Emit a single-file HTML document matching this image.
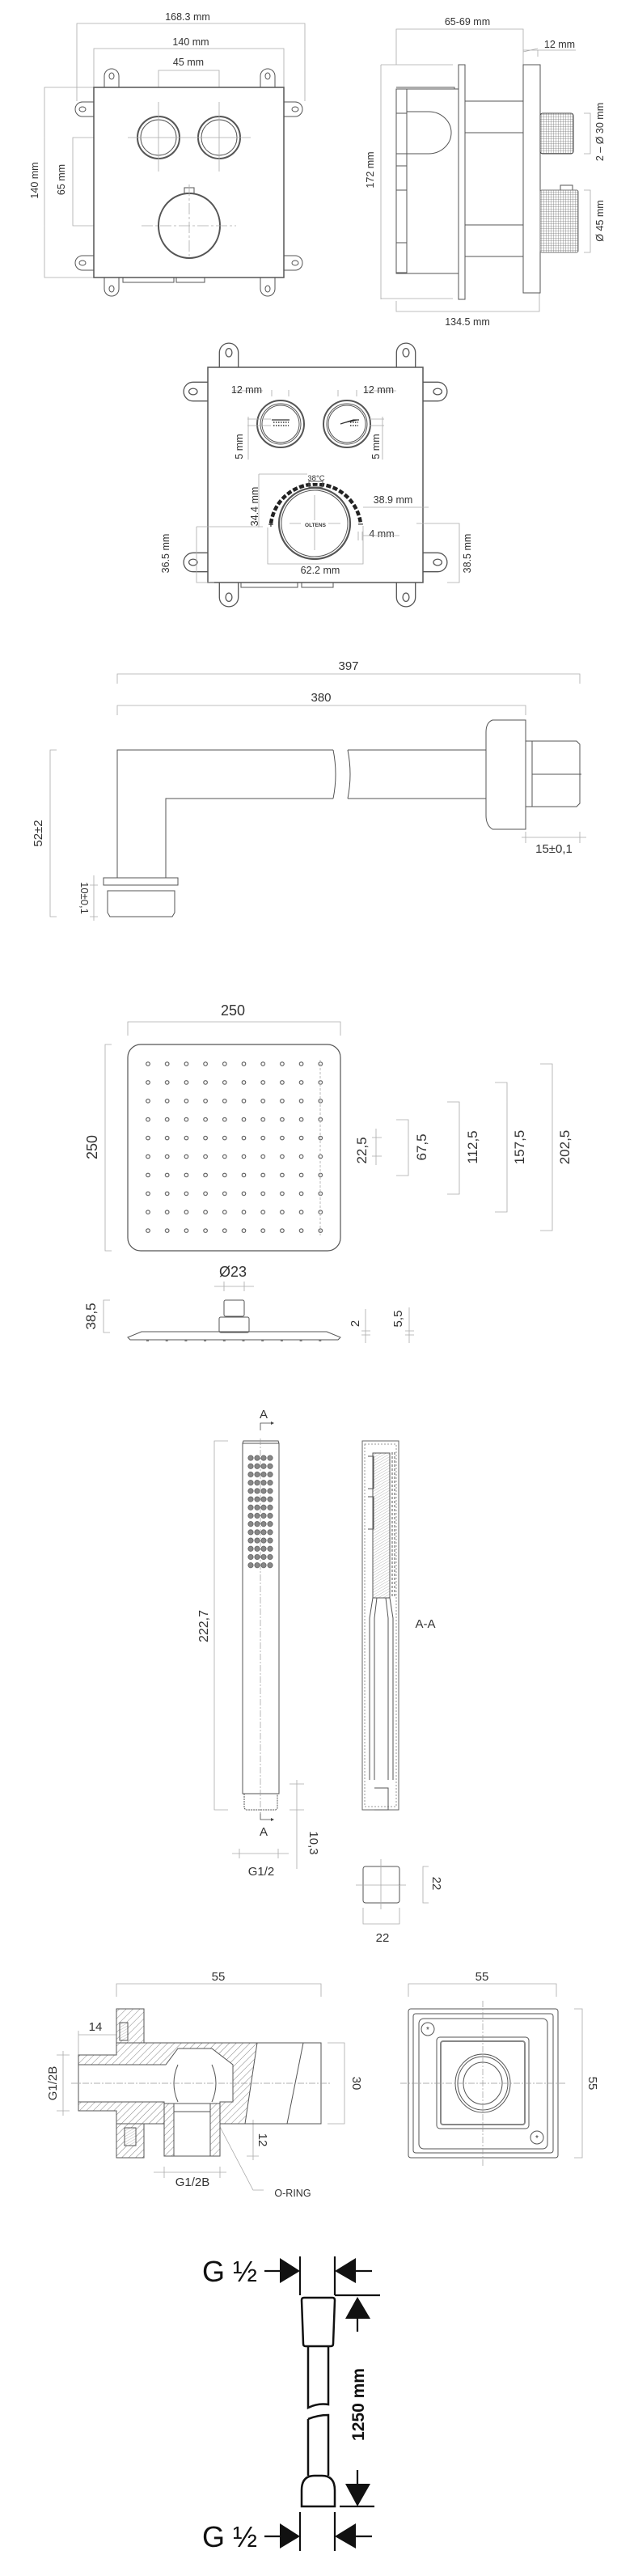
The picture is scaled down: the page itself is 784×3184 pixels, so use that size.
<!DOCTYPE html>
<html><head><meta charset="utf-8"><style>
html,body{margin:0;padding:0;background:#fff}
svg{display:block}
text{font-family:"Liberation Sans",sans-serif;fill:#333}
.o{fill:none;stroke:#555;stroke-width:1}
.d{fill:none;stroke:#aaa;stroke-width:.8}
.c{fill:none;stroke:#999;stroke-width:.7;stroke-dasharray:8 2 2 2}
.k{fill:none;stroke:#111;stroke-width:2.5}
</style></head><body>
<svg width="784" height="3184" viewBox="0 0 784 3184" xmlns="http://www.w3.org/2000/svg">
<defs>
<g id="ear"><path d="M-9,0 L-9,-14 A9,9 0 0 1 9,-14 L9,0" fill="#fff" stroke="#555" stroke-width="1"/><ellipse cx="0" cy="-14" rx="3" ry="4" fill="none" stroke="#555" stroke-width="1"/></g>
<pattern id="knurl" width="3" height="3" patternUnits="userSpaceOnUse"><rect width="3" height="3" fill="#fff"/><path d="M0,0H3M0,0V3" stroke="#777" stroke-width=".8"/></pattern>
<pattern id="dots" x="171.15" y="1303.55" width="23.7" height="22.9" patternUnits="userSpaceOnUse"><circle cx="11.85" cy="11.45" r="2.3" fill="none" stroke="#444" stroke-width="1"/></pattern>
<pattern id="hdots" x="306" y="1797" width="8" height="10.2" patternUnits="userSpaceOnUse"><circle cx="4" cy="5.1" r="3.2" fill="#888" stroke="#444" stroke-width=".6"/></pattern>
<pattern id="hatch" width="6" height="6" patternUnits="userSpaceOnUse" patternTransform="rotate(45)"><rect width="6" height="6" fill="#fff"/><path d="M0,0V6" stroke="#666" stroke-width=".8"/></pattern>
<pattern id="hatch2" width="3" height="3" patternUnits="userSpaceOnUse" patternTransform="rotate(60)"><rect width="3" height="3" fill="#fff"/><path d="M0,0V3" stroke="#888" stroke-width=".6"/></pattern>
</defs>

<!-- ===== SECTION 1 LEFT (front) ===== -->
<g font-size="12.5" text-anchor="middle">
<text x="232" y="25">168.3 mm</text>
<text x="236" y="56">140 mm</text>
<text x="233" y="81">45 mm</text>
</g>
<path class="d" d="M95,125V29H377V125M116,108V60H351V108M196,150V87H271V150"/>
<path class="d" d="M116,108H55V343H116M196,170H90V279H234"/>
<text font-size="12.5" text-anchor="middle" transform="rotate(-90 47 223)" x="47" y="223">140 mm</text>
<text font-size="12.5" text-anchor="middle" transform="rotate(-90 80 222)" x="80" y="222">65 mm</text>
<use href="#ear" transform="translate(138,108)"/>
<use href="#ear" transform="translate(331,108)"/>
<use href="#ear" transform="translate(116,135) rotate(-90)"/>
<use href="#ear" transform="translate(116,325) rotate(-90)"/>
<use href="#ear" transform="translate(351,135) rotate(90)"/>
<use href="#ear" transform="translate(351,325) rotate(90)"/>
<use href="#ear" transform="translate(138,343) rotate(180)"/>
<use href="#ear" transform="translate(331,343) rotate(180)"/>
<rect x="116" y="108" width="235" height="235" fill="#fff" stroke="#555" stroke-width="1.5"/>
<path class="o" d="M152,343V349H215V343M218,343V349H253V343"/>
<circle cx="196" cy="170" r="26" fill="none" stroke="#555" stroke-width="2"/><circle cx="196" cy="170" r="22" class="o"/>
<circle cx="271" cy="170" r="26" fill="none" stroke="#555" stroke-width="2"/><circle cx="271" cy="170" r="22" class="o"/>
<path class="d" d="M158,170H310M196,126V212M271,126V212"/>
<ellipse cx="234" cy="279" rx="38" ry="40" fill="none" stroke="#555" stroke-width="2"/>
<rect x="228" y="232" width="12" height="7" class="o"/>
<path class="d" d="M175,279H292M234,228V318" stroke-dasharray="14 3 3 3"/>

<!-- ===== SECTION 1 RIGHT (side) ===== -->
<g font-size="12.5" text-anchor="middle">
<text x="578" y="31">65-69 mm</text>
<text x="692" y="59">12 mm</text>
<text x="578" y="402">134.5 mm</text>
</g>
<path class="d" d="M490,80V36H647V80M647,64L665,60M647,62H712M665,70V62M471,80V370M471,80H560M471,369H560M490,372V385H667V362"/>
<text font-size="12.5" text-anchor="middle" transform="rotate(-90 462 210)" x="462" y="210">172 mm</text>
<rect x="567" y="80" width="8" height="290" class="o"/>
<path class="o" d="M490,108H562V113M490,337H562V333"/>
<rect x="490" y="110" width="22" height="228" class="o"/>
<rect x="503" y="110" width="64" height="228" fill="#fff" stroke="#555"/>
<path class="o" d="M490,140H503M490,190H503M490,205H503M490,235H503M490,300H503"/>
<path class="o" d="M503,138H530A28,26 0 0 1 530,190H503Z"/>
<path class="o" d="M575,125H647M575,164H647M575,278H647M575,317H647"/>
<rect x="647" y="80" width="21" height="282" fill="#fff" stroke="#555"/>
<rect x="668" y="140" width="41" height="50" rx="3" fill="url(#knurl)" stroke="#444"/>
<rect x="693" y="229" width="15" height="6" class="o"/>
<rect x="668" y="235" width="47" height="77" rx="2" fill="url(#knurl)" stroke="#777"/>
<path class="d" d="M722,140H730V190H722M722,235H730V312H722"/>
<text font-size="12.5" text-anchor="middle" transform="rotate(-90 746 163)" x="746" y="163">2 – Ø 30 mm</text>
<text font-size="12.5" text-anchor="middle" transform="rotate(-90 746 273)" x="746" y="273">Ø 45 mm</text>

<!-- ===== SECTION 2 ===== -->
<g transform="translate(283,454) scale(1.3)"><use href="#ear"/></g>
<g transform="translate(502,454) scale(1.3)"><use href="#ear"/></g>
<g transform="translate(257,484) rotate(-90) scale(1.3)"><use href="#ear"/></g>
<g transform="translate(257,695) rotate(-90) scale(1.3)"><use href="#ear"/></g>
<g transform="translate(523,484) rotate(90) scale(1.3)"><use href="#ear"/></g>
<g transform="translate(523,695) rotate(90) scale(1.3)"><use href="#ear"/></g>
<g transform="translate(283,720) rotate(180) scale(1.3)"><use href="#ear"/></g>
<g transform="translate(502,720) rotate(180) scale(1.3)"><use href="#ear"/></g>
<rect x="257" y="454" width="266" height="266" fill="#fff" stroke="#555" stroke-width="1.5"/>
<path class="o" d="M298,720V726H368V720M373,720V726H412V720"/>
<circle cx="347" cy="524" r="29" fill="none" stroke="#555" stroke-width="2"/><circle cx="347" cy="524" r="25" class="o"/><circle cx="347" cy="524" r="23" class="o"/>
<circle cx="429" cy="524" r="29" fill="none" stroke="#555" stroke-width="2"/><circle cx="429" cy="524" r="25" class="o"/><circle cx="429" cy="524" r="23" class="o"/>
<path stroke="#333" stroke-width="1.2" d="M336,519H358M421,524L437,519H444"/>
<path stroke="#333" stroke-width="1.5" stroke-dasharray="1.5 1.5" d="M338,522H357M338,526H357M433,522H443M433,526H443"/>
<path class="d" d="M287,483H325M336,482V490M357,482V490M418,482V490M441,482V490M451,483H490M306,518H335M306,526H335M457,518H475M457,526H475M307,515V568M473,515V568"/>
<g font-size="12.5" text-anchor="middle">
<text x="305" y="486">12 mm</text>
<text x="468" y="486">12 mm</text>
<text x="486" y="622">38.9 mm</text>
<text x="472" y="664">4 mm</text>
<text x="396" y="709">62.2 mm</text>
</g>
<text font-size="12.5" text-anchor="middle" transform="rotate(-90 300 552)" x="300" y="552">5 mm</text>
<text font-size="12.5" text-anchor="middle" transform="rotate(-90 469 552)" x="469" y="552">5 mm</text>
<text font-size="12.5" text-anchor="middle" transform="rotate(-90 319 626)" x="319" y="626">34.4 mm</text>
<text font-size="12.5" text-anchor="middle" transform="rotate(-90 209 684)" x="209" y="684">36.5 mm</text>
<text font-size="12.5" text-anchor="middle" transform="rotate(-90 582 684)" x="582" y="684">38.5 mm</text>
<path class="d" d="M320,586H395M320,586V652M449,627H530M449,662H494M443,657V668M448,657V668M331,652V697H449V650M243,651H325M243,651V720H265M515,647H568V720H553"/>
<path d="M335,647A56,56 0 0 1 446,647" fill="none" stroke="#222" stroke-width="4.5" stroke-dasharray="6 2.5"/>
<rect x="380" y="585" width="22" height="12" fill="#fff"/>
<text x="391" y="594" font-size="9.5" text-anchor="middle">38°C</text>
<rect x="382" y="595" width="17" height="7" class="o"/>
<circle cx="389" cy="647" r="44" fill="#fff" stroke="#555" stroke-width="2.2"/><circle cx="389" cy="647" r="41" class="o"/>
<path class="d" d="M358,647H421M389,612V680"/>
<rect x="372" y="643" width="34" height="9" fill="#fff"/>
<text x="390" y="651" font-size="6.5" font-weight="bold" text-anchor="middle">OLTENS</text>
<text x="335" y="652" font-size="11" text-anchor="middle" font-weight="bold">+</text>
<text x="446" y="651" font-size="12" text-anchor="middle" font-weight="bold">–</text>

<!-- ===== SECTION 3 ARM ===== -->
<g font-size="15" text-anchor="middle"><text x="431" y="828">397</text><text x="397" y="867">380</text><text x="685" y="1054">15±0,1</text></g>
<path class="d" d="M145,845V833H717V845M145,884V872H650V884M70,927H62V1133H70M650,1028V1042M717,1028V1042M645,1035H725M116,1082V1138M111,1094H121M111,1133H121"/>
<text font-size="15" text-anchor="middle" transform="rotate(-90 52 1030)" x="52" y="1030">52±2</text>
<text font-size="13" text-anchor="middle" transform="rotate(90 100 1110)" x="100" y="1110">10±0,1</text>
<path class="o" d="M145,1085V927H412M430,927H601M205,1085V987H412M430,987H601"/>
<path class="o" d="M412,927Q418,957 412,987M430,927Q436,957 430,987"/>
<path class="o" d="M609,890H650V1025H609Q601,1020 601,1008V905Q601,893 609,890Z"/>
<rect x="650" y="916" width="8" height="81" class="o"/>
<path class="o" d="M658,916H713L717,920V993L713,997H658M658,957H719"/>
<rect x="128" y="1085" width="92" height="9" class="o"/>
<path class="o" d="M133,1101H216V1128L213,1133H136L133,1128Z"/>

<!-- ===== SECTION 4 RAIN SHOWER ===== -->
<g font-size="18" text-anchor="middle"><text x="288" y="1255">250</text><text x="288" y="1578">Ø23</text></g>
<path class="d" d="M158,1280V1263H421V1280M138,1291H130V1546H138"/>
<text font-size="18" text-anchor="middle" transform="rotate(-90 120 1418)" x="120" y="1418">250</text>
<rect x="158" y="1291" width="263" height="255" rx="16" fill="#fff" stroke="#555" stroke-width="1.2"/>
<rect x="171.15" y="1303.55" width="237" height="229" fill="url(#dots)"/>
<path class="d" d="M396,1310V1527" stroke-dasharray="3 2"/>
<path class="d" d="M465,1395V1440M460,1406H472M460,1429H472M490,1384H505V1453H490M553,1362H568V1476H553M612,1338H627V1498H612M668,1315H683V1521H668"/>
<g font-size="17" text-anchor="middle">
<text transform="rotate(-90 453 1422)" x="453" y="1422">22,5</text>
<text transform="rotate(-90 527 1418)" x="527" y="1418">67,5</text>
<text transform="rotate(-90 590 1418)" x="590" y="1418">112,5</text>
<text transform="rotate(-90 648 1418)" x="648" y="1418">157,5</text>
<text transform="rotate(-90 704 1418)" x="704" y="1418">202,5</text>
</g>
<path class="d" d="M265,1590H314M277,1584V1596M302,1584V1596M136,1607H128V1647H136M452,1618V1660M447,1645H458M447,1650H458M506,1616V1660M501,1645H512M501,1650H512"/>
<text font-size="17" text-anchor="middle" transform="rotate(-90 118 1627)" x="118" y="1627">38,5</text>
<text font-size="15" text-anchor="middle" transform="rotate(-90 444 1636)" x="444" y="1636">2</text>
<text font-size="15" text-anchor="middle" transform="rotate(-90 497 1630)" x="497" y="1630">5,5</text>
<rect x="277" y="1607" width="25" height="20" rx="2" class="o"/>
<rect x="271" y="1628" width="37" height="19" rx="2" class="o"/>
<path class="o" d="M158,1653L175,1646H404L421,1653L418,1656H161Z"/>
<path stroke="#777" stroke-width="2" stroke-dasharray="3 20.7" d="M181,1657H400"/>

<!-- ===== SECTION 5 HAND SHOWER ===== -->
<g font-size="15" text-anchor="middle"><text x="326" y="1753">A</text><text x="326" y="2269">A</text><text x="323" y="2318">G1/2</text><text x="473" y="2400">22</text><text x="526" y="2012">A-A</text></g>
<path stroke="#444" fill="none" stroke-width=".8" d="M322,1768V1759H337M322,2240V2249H337"/>
<path fill="#444" d="M339,1759l-4,-2v4z M339,2249l-4,-2v4z"/>
<path class="d" d="M282,1781H265V2237H282M358,2205H376M358,2237H376M367,2200V2310M287,2291H357M296,2285V2297M344,2285V2297M530,2307H523V2352H530M449,2358V2378H494V2358"/>
<text font-size="16" text-anchor="middle" transform="rotate(-90 257 2010)" x="257" y="2010">222,7</text>
<text font-size="15" text-anchor="middle" transform="rotate(90 383 2278)" x="383" y="2278">10,3</text>
<text font-size="15" text-anchor="middle" transform="rotate(90 535 2328)" x="535" y="2328">22</text>
<path class="o" d="M300,1784L301,1781H344L345,1784V2217H300Z"/>
<path class="o" d="M300,1784H345"/>
<rect x="306" y="1797" width="32" height="143" fill="url(#hdots)"/>
<path class="c" d="M322,1778V2242"/>
<path class="o" d="M302,2217V2235L304,2237H341L343,2235V2217" stroke-dasharray="2 1"/>
<!-- A-A section -->
<rect x="448" y="1781" width="45" height="456" fill="#fff" stroke="#666"/>
<rect x="451" y="1785" width="39" height="448" fill="none" stroke="#999" stroke-dasharray="2 2"/>
<path d="M461,1796H482V1975H461Z" fill="url(#hatch2)" stroke="#555"/>
<path class="o" d="M485,1795V1973M488,1795V1973" stroke-dasharray="3 2"/>
<path class="o" d="M455,1800H462V1840H455M455,1850H462V1890H455"/>
<path class="o" d="M461,1975L457,2000V2200M482,1975L486,2000V2200M466,1975L463,2000V2200M477,1975L480,2000V2200M463,2210H480V2237H463"/>
<!-- cap -->
<rect x="449" y="2307" width="45" height="45" rx="3" class="o"/>
<path class="d" d="M440,2330H502M471,2298V2360"/>
<path class="o" d="M494,2312V2347" stroke-dasharray="3 2"/>

<!-- ===== SECTION 6 BRACKET ===== -->
<g font-size="15" text-anchor="middle"><text x="270" y="2448">55</text><text x="596" y="2448">55</text><text x="118" y="2510">14</text><text x="238" y="2702">G1/2B</text><text x="362" y="2715" font-size="12.5">O-RING</text></g>
<path class="d" d="M144,2468V2452H397V2468M505,2468V2452H688V2468M97,2515H144M97,2510V2540M70,2540H86M70,2609H86M78,2535V2615M405,2525H426V2625H405M305,2625H320M305,2665H320M313,2620V2670M190,2685H280M203,2678V2692M272,2678V2692M710,2483H720V2667H710M270,2625L313,2707H326"/>
<text font-size="15" text-anchor="middle" transform="rotate(-90 70 2575)" x="70" y="2575">G1/2B</text>
<text font-size="15" text-anchor="middle" transform="rotate(90 436 2575)" x="436" y="2575">30</text>
<text font-size="15" text-anchor="middle" transform="rotate(90 320 2645)" x="320" y="2645">12</text>
<text font-size="15" text-anchor="middle" transform="rotate(90 728 2575)" x="728" y="2575">55</text>
<!-- flange -->
<path d="M144,2483H178V2525H144Z M144,2625H178V2667H144Z" fill="url(#hatch)" stroke="#555"/>
<rect x="148" y="2500" width="10" height="22" fill="url(#hatch2)" stroke="#555"/>
<rect x="154" y="2630" width="14" height="22" fill="url(#hatch2)" stroke="#555"/>
<!-- body -->
<path d="M97,2540H144V2525H318L303,2625H272V2600H203V2625H144V2609H97Z" fill="url(#hatch)" stroke="#555"/>
<path d="M97,2552H205L220,2532H262L288,2552V2598H272V2600H203V2598H97Z" fill="#fff" stroke="#555"/>
<path class="o" d="M220,2552Q210,2575 220,2598M262,2552Q272,2575 262,2598"/>
<path d="M203,2600H215V2665H203Z M260,2600H272V2665H260Z" fill="url(#hatch)" stroke="#555"/>
<path class="o" d="M215,2610H260M215,2665H260"/>
<path class="o" d="M318,2525H397V2625H303M375,2525L355,2625"/>
<path class="c" d="M88,2575H408"/>
<!-- right square -->
<rect x="505" y="2483" width="185" height="184" rx="3" class="o"/>
<rect x="511" y="2489" width="173" height="172" rx="3" class="o"/>
<rect x="518" y="2495" width="159" height="161" rx="6" class="o"/>
<rect x="540" y="2518" width="114" height="113" rx="4" class="o"/>
<rect x="545" y="2523" width="104" height="103" rx="3" fill="none" stroke="#888" stroke-width="2"/>
<ellipse cx="597" cy="2575" rx="34" ry="36" class="o"/><ellipse cx="597" cy="2575" rx="31" ry="33" class="o"/>
<ellipse cx="597" cy="2575" rx="24" ry="26" class="o"/>
<circle cx="529" cy="2508" r="8" class="o"/><circle cx="664" cy="2642" r="8" class="o"/>
<text x="529" y="2512" font-size="10" text-anchor="middle">*</text><text x="664" y="2646" font-size="10" text-anchor="middle">*</text>
<path class="c" d="M495,2575H700M597,2473V2677"/>

<!-- ===== SECTION 7 HOSE ===== -->
<g font-size="36" text-anchor="start" fill="#111"><text x="250" y="2820" style="fill:#111">G ½</text><text x="250" y="3148" style="fill:#111">G ½</text></g>
<g stroke="#111" stroke-width="2.2" fill="none">
<path d="M327,2807H346M371,2789V2837M414,2789V2837M440,2807H460M414,2837H470M442,2866V2882M327,3135H346M371,3105V3153M414,3105V3153M440,3135H460M420,3098H463M442,3053V3070"/>
</g>
<g fill="#111">
<path d="M346,2791L371,2807L346,2822Z M440,2791L414,2807L440,2822Z M427,2866L442,2839L458,2866Z M427,3070L442,3098L458,3070Z M346,3119L371,3135L346,3150Z M440,3119L414,3135L440,3150Z"/>
</g>
<path class="k" stroke-width="2" d="M376,2840H411Q414,2840 414,2843L412,2897Q412,2900 409,2900H378Q375,2900 375,2897L373,2843Q373,2840 376,2840Z"/>
<path class="k" stroke-width="2" d="M381,2900V2976Q393,2970 406,2972V2900M381,2990Q393,2985 406,2985V3060M381,2990V3060"/>
<path class="k" stroke-width="2" d="M373,3098V3078Q373,3060 389,3060H398Q414,3060 414,3078V3098Z"/>
<text font-size="21" font-weight="bold" text-anchor="middle" transform="rotate(-90 450 2972)" x="450" y="2972" style="fill:#111">1250 mm</text>
</svg>
</body></html>
